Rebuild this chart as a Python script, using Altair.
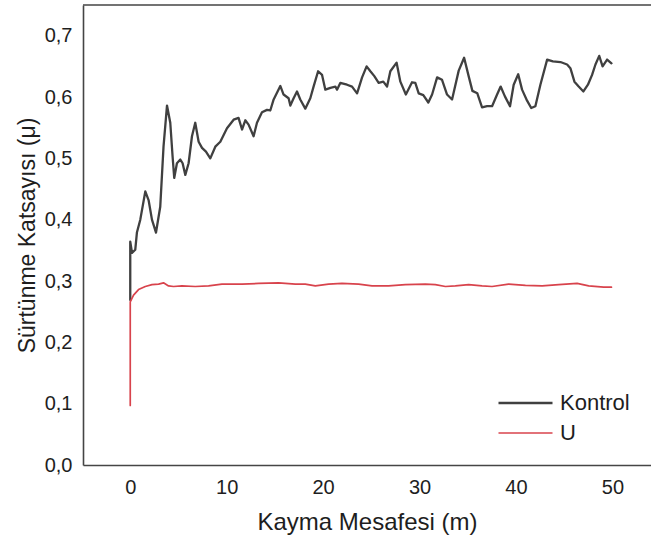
import altair as alt
import pandas as pd

# Friction coefficient vs. sliding distance
kontrol_x = [0.00, 0.00, 0.18, 0.52, 0.69, 1.04, 1.56, 1.90, 2.25, 2.67, 3.11, 3.45, 3.81,
             4.15, 4.39, 4.56, 4.84, 5.19, 5.43, 5.71, 6.05, 6.40, 6.74, 7.09, 7.44, 7.85,
             8.30, 8.82, 9.34, 10.03, 10.72, 11.23, 11.59, 11.93, 12.27, 12.79, 13.14, 13.66,
             14.18, 14.52, 14.87, 15.56, 15.90, 16.42, 16.60, 16.94, 17.29, 17.63, 18.15,
             18.67, 19.01, 19.48, 19.89, 20.23, 20.75, 21.27, 21.44, 21.78, 22.48, 23.00,
             23.52, 24.04, 24.51, 24.90, 25.31, 25.76, 26.24, 26.63, 26.97, 27.62, 28.01,
             28.58, 29.22, 29.56, 29.91, 30.39, 30.91, 31.30, 31.82, 32.33, 32.85, 33.37,
             34.06, 34.62, 35.09, 35.48, 35.99, 36.48, 37.00, 37.52, 38.04, 38.41, 38.85,
             39.38, 39.76, 40.23, 40.63, 41.15, 41.58, 42.01, 42.53, 43.23, 43.83, 44.61,
             45.30, 45.64, 46.06, 46.50, 46.99, 47.46, 47.89, 48.24, 48.63, 48.98, 49.45, 49.90]
kontrol_y = [0.269, 0.364, 0.346, 0.351, 0.379, 0.400, 0.446, 0.432, 0.400, 0.379, 0.421,
             0.519, 0.586, 0.558, 0.503, 0.468, 0.492, 0.498, 0.492, 0.473, 0.492, 0.536,
             0.558, 0.527, 0.517, 0.511, 0.500, 0.519, 0.527, 0.549, 0.563, 0.566, 0.547,
             0.562, 0.555, 0.536, 0.558, 0.575, 0.579, 0.578, 0.596, 0.618, 0.604, 0.598,
             0.586, 0.598, 0.609, 0.596, 0.581, 0.598, 0.617, 0.642, 0.636, 0.612, 0.615,
             0.617, 0.612, 0.623, 0.620, 0.617, 0.606, 0.632, 0.650, 0.642, 0.634, 0.623,
             0.625, 0.617, 0.642, 0.656, 0.625, 0.604, 0.624, 0.623, 0.606, 0.603, 0.591,
             0.604, 0.632, 0.628, 0.604, 0.596, 0.643, 0.664, 0.634, 0.610, 0.606, 0.583,
             0.585, 0.585, 0.604, 0.617, 0.601, 0.585, 0.620, 0.637, 0.612, 0.594, 0.582,
             0.585, 0.620, 0.661, 0.658, 0.657, 0.653, 0.647, 0.625, 0.617, 0.609, 0.620,
             0.636, 0.653, 0.667, 0.650, 0.661, 0.655]

u_x = [0.00, 0.00, 0.34, 0.86, 1.56, 2.25, 2.94, 3.45, 3.97, 4.49, 5.36, 6.74, 8.12, 9.51,
       11.59, 13.31, 15.38, 17.12, 18.15, 19.19, 20.57, 21.96, 23.68, 25.07, 26.79, 28.53,
       30.60, 31.64, 32.68, 33.71, 35.09, 36.48, 37.52, 39.24, 40.98, 42.71, 44.43, 46.34,
       47.54, 49.10, 49.90]
u_y = [0.097, 0.266, 0.277, 0.286, 0.291, 0.294, 0.295, 0.297, 0.292, 0.291, 0.292, 0.291,
       0.292, 0.295, 0.295, 0.296, 0.297, 0.295, 0.295, 0.292, 0.295, 0.296, 0.295, 0.292,
       0.292, 0.294, 0.295, 0.294, 0.291, 0.292, 0.294, 0.292, 0.291, 0.295, 0.293, 0.292,
       0.294, 0.296, 0.292, 0.290, 0.290]

series_names = ["Kontrol", "U"]
series_colors = ["#404040", "#d8434c"]
series_widths = [2.3, 1.7]
x_ticks = [0, 10, 20, 30, 40, 50]
y_ticks = [0.0, 0.1, 0.2, 0.3, 0.4, 0.5, 0.6, 0.7]

rows = []
for name, xs, ys in ((series_names[0], kontrol_x, kontrol_y),
                     (series_names[1], u_x, u_y)):
    for i, (xv, yv) in enumerate(zip(xs, ys)):
        rows.append({"seri": name, "mesafe": xv, "mu": yv, "sira": i})
df = pd.DataFrame(rows)

FONT = "Liberation Sans"
TEXT = "#1e1e1e"
FRAME = "#454545"
W, H = 568, 460

x_enc = alt.X(
    "mesafe:Q",
    scale=alt.Scale(domain=[-4.9, 54], nice=False, zero=False),
    axis=alt.Axis(
        title="Kayma Mesafesi (m)", values=x_ticks, ticks=False, grid=False,
        domainColor=FRAME, domainWidth=1.6, labelPadding=12, titlePadding=13,
        labelFont=FONT, labelFontSize=20, labelColor=TEXT,
        titleFont=FONT, titleFontSize=24, titleFontWeight="normal", titleColor=TEXT,
    ),
)
y_enc = alt.Y(
    "mu:Q",
    scale=alt.Scale(domain=[0, 0.75], nice=False),
    axis=alt.Axis(
        title="Sürtünme Katsayısı (μ)", values=y_ticks, ticks=False, grid=False,
        labelExpr="replace(format(datum.value, '.1f'), '.', ',')",
        domainColor=FRAME, domainWidth=1.6, labelPadding=11, titlePadding=5,
        labelFont=FONT, labelFontSize=20, labelColor=TEXT,
        titleFont=FONT, titleFontSize=23, titleFontWeight="normal", titleColor=TEXT,
    ),
)

lines = alt.Chart(df).mark_line(strokeJoin="round", strokeCap="round").encode(
    x=x_enc,
    y=y_enc,
    color=alt.Color(
        "seri:N",
        scale=alt.Scale(domain=series_names, range=series_colors),
        legend=alt.Legend(
            title=None, orient="none", legendX=414, legendY=387,
            symbolType="stroke", symbolSize=2916, symbolStrokeWidth=1.5,
            clipHeight=22, rowPadding=8, padding=0,
            labelFont=FONT, labelFontSize=22, labelColor=TEXT, labelOffset=6,
        ),
    ),
    strokeWidth=alt.StrokeWidth(
        "seri:N", scale=alt.Scale(domain=series_names, range=series_widths), legend=None
    ),
    order="sira:Q",
)

# top edge of the plot frame
top_edge = alt.Chart(pd.DataFrame({"k": [0]})).mark_rule(
    color=FRAME, strokeWidth=1.6
).encode(x=alt.value(0), x2=alt.value(W), y=alt.value(0))

chart = (
    alt.layer(top_edge, lines)
    .properties(
        width=W, height=H,
        autosize=alt.AutoSizeParams(type="none"),
        padding={"left": 83, "top": 5, "right": 0, "bottom": 80},
        background="white",
    )
    .configure_view(stroke=None)
)

chart.save("out.html", embed_options={"renderer": "svg", "actions": False})
